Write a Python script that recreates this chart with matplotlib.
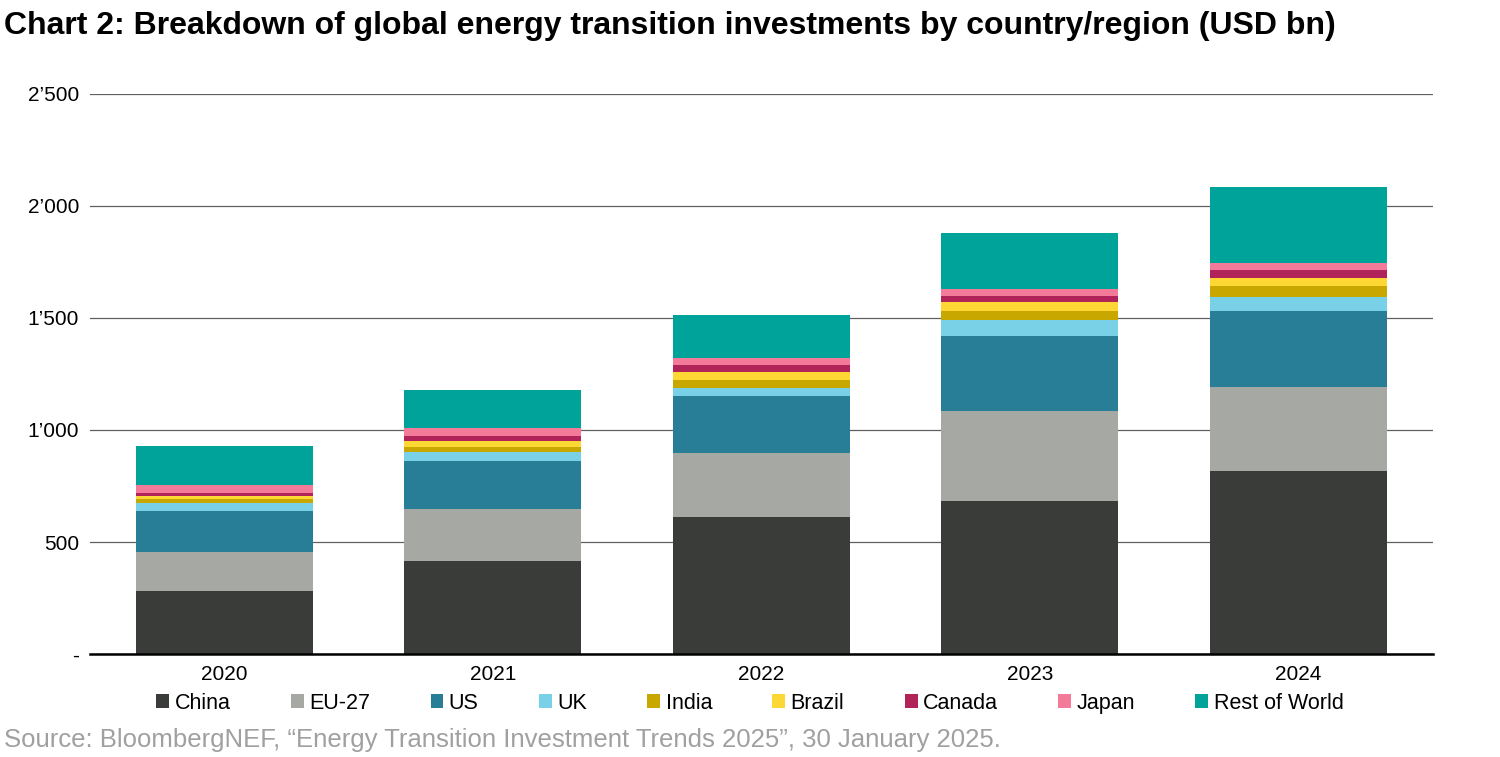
import matplotlib
matplotlib.use("Agg")
import matplotlib.pyplot as plt
import numpy as np

plt.rcParams['font.family'] = 'Liberation Sans'

years = ['2020', '2021', '2022', '2023', '2024']
series = ['China', 'EU-27', 'US', 'UK', 'India', 'Brazil', 'Canada', 'Japan', 'Rest of World']
china = [281, 415, 612, 683, 817]
eu27 = [174, 232, 285, 402, 375]
us = [183, 215, 255, 335, 339]
uk = [36, 40, 35, 71, 63]
india = [18, 22, 36, 40, 49]
brazil = [14, 27, 36, 40, 36]
canada = [14, 22, 31, 27, 35]
japan = [35, 36, 31, 31, 32]
rest = [172, 170, 192, 250, 339]
values = [china, eu27, us, uk, india, brazil, canada, japan, rest]
colors = ['#3a3c39', '#a5a8a3', '#287d97', '#78d1e6', '#c8a800', '#fdd835', '#b0245a', '#f47a9a', '#00a39a']

fig = plt.figure(figsize=(15, 7.57), dpi=100)
ax = fig.add_axes([0.06, 0.136, 0.895, 0.74])
x = np.arange(len(years))
bottom = np.zeros(len(years))
for name, vals, c in zip(series, values, colors):
    ax.bar(x, vals, 0.66, bottom=bottom, color=c, label=name, zorder=3)
    bottom += np.array(vals)

ax.set_ylim(0, 2500)
ax.set_xlim(-0.5, 4.5)
ticks = [0, 500, 1000, 1500, 2000, 2500]
ax.set_yticks(ticks)
ax.set_yticklabels(['-', '500', '1\u2019000', '1\u2019500', '2\u2019000', '2\u2019500'], fontsize=15)
ax.set_xticks(x)
ax.set_xticklabels(years, fontsize=15)
ax.tick_params(length=0, pad=8)
ax.yaxis.grid(True, color='#606060', linewidth=0.9, zorder=0)
for s in ['top', 'right', 'left']:
    ax.spines[s].set_visible(False)
ax.spines['bottom'].set_linewidth(1.8)
ax.spines['bottom'].set_zorder(4)

fig.legend(loc='center', bbox_to_anchor=(0.5, 0.071), ncol=9, frameon=False, fontsize=15.5,
           handlelength=0.6, handleheight=0.6, handletextpad=0.25, columnspacing=2.8)
fig.text(0.003, 0.965, 'Chart 2: Breakdown of global energy transition investments by country/region (USD bn)',
         fontsize=23, fontweight='bold', va='center', ha='left')
fig.text(0.003, 0.022, 'Source: BloombergNEF, \u201cEnergy Transition Investment Trends 2025\u201d, 30 January 2025.',
         fontsize=18.5, color='#a0a0a0', va='center', ha='left')
fig.savefig('out.png', dpi=100)
